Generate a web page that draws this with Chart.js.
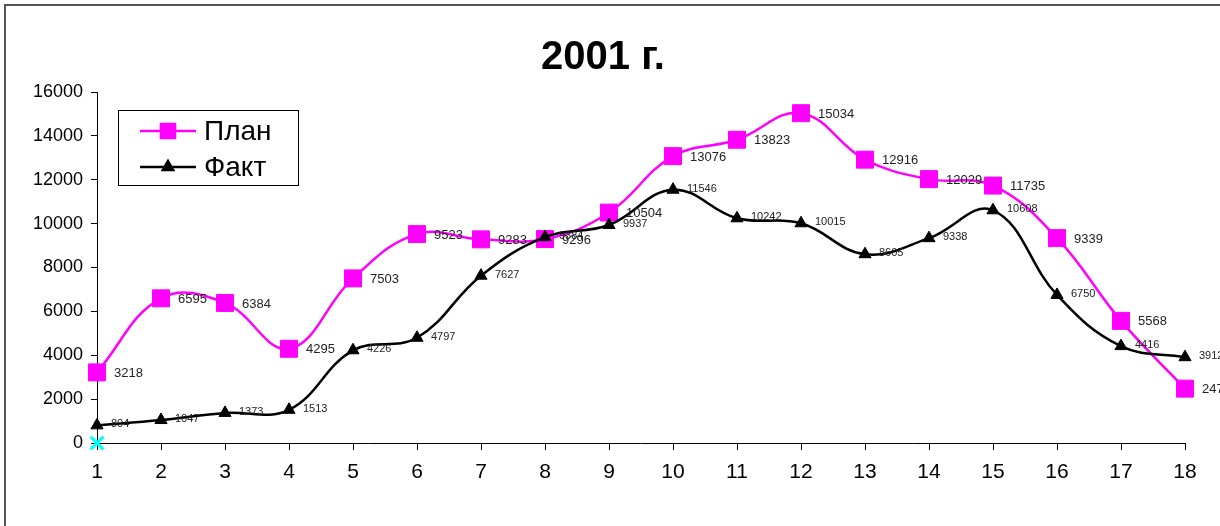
<!DOCTYPE html>
<html>
<head>
<meta charset="utf-8">
<script src="https://cdn.jsdelivr.net/npm/chart.js@4.4.1/dist/chart.umd.min.js"></script>
<style>
  html, body { margin: 0; padding: 0; background: #fff; }
  #wrap { width: 1220px; height: 526px; }
</style>
</head>
<body>
<div id="wrap"><canvas id="chart" width="1220" height="526"></canvas></div>
<script>
const labels = ['1','2','3','4','5','6','7','8','9','10','11','12','13','14','15','16','17','18'];
const planValues = [3218, 6595, 6384, 4295, 7503, 9523, 9283, 9296, 10504, 13076, 13823, 15034, 12916, 12029, 11735, 9339, 5568, 2479];
const factValues = [804, 1047, 1373, 1513, 4226, 4797, 7627, 9384, 9937, 11546, 10242, 10015, 8605, 9338, 10608, 6750, 4416, 3912];
const markerValues = [0, null, null, null, null, null, null, null, null, null, null, null, null, null, null, null, null, null];
const yTicks = [0, 2000, 4000, 6000, 8000, 10000, 12000, 14000, 16000];

const FONT = '"Liberation Sans", Arial, sans-serif';

// white background + grey frame
const framePlugin = {
    id: 'frame',
    beforeDraw(chart) {
        const ctx = chart.ctx;
        ctx.save();
        ctx.fillStyle = '#fff';
        ctx.fillRect(0, 0, chart.width, chart.height);
        ctx.strokeStyle = '#555';
        ctx.lineWidth = 2;
        ctx.strokeRect(5, 5, chart.width + 20, chart.height + 20);
        ctx.restore();
    }
};

// value labels to the right of points
const valueLabels = {
    id: 'valueLabels',
    afterDatasetsDraw(chart) {
        const ctx = chart.ctx;
        ctx.save();
        chart.data.datasets.forEach((ds, i) => {
            if (!ds.labelFont) return;
            const meta = chart.getDatasetMeta(i);
            ctx.font = ds.labelFont;
            ctx.fillStyle = '#222';
            ctx.textAlign = 'left';
            ctx.textBaseline = 'middle';
            meta.data.forEach((pt, j) => {
                ctx.fillText(String(ds.data[j]), pt.x + ds.labelDx, pt.y + ds.labelDy);
            });
        });
        ctx.restore();
    }
};

// title and legend box
const decor = {
    id: 'decor',
    afterDraw(chart) {
        const ctx = chart.ctx;
        ctx.save();
        ctx.fillStyle = '#000';
        ctx.font = 'bold 40px ' + FONT;
        ctx.textAlign = 'center';
        ctx.textBaseline = 'middle';
        ctx.fillText('2001 г.', 603, 58);

        ctx.fillStyle = '#fff';
        ctx.fillRect(118, 110, 180, 75);
        ctx.strokeStyle = '#000';
        ctx.lineWidth = 1;
        ctx.strokeRect(118.5, 110.5, 180, 75);

        const rows = [
            { text: 'План', color: '#FF00FF', style: 'rect', r: 10, y: 131 },
            { text: 'Факт', color: '#000000', style: 'triangle', r: 6, y: 167 }
        ];
        rows.forEach(row => {
            ctx.strokeStyle = row.color;
            ctx.lineWidth = 2.5;
            ctx.beginPath();
            ctx.moveTo(140, row.y);
            ctx.lineTo(196, row.y);
            ctx.stroke();
            ctx.fillStyle = row.color;
            Chart.helpers.drawPoint(ctx, { pointStyle: row.style, radius: row.r, borderWidth: 1 }, 168, row.y);
            ctx.fillStyle = '#000';
            ctx.font = '28px ' + FONT;
            ctx.textAlign = 'left';
            ctx.fillText(row.text, 204, row.y + 1);
        });
        ctx.restore();
    }
};

new Chart(document.getElementById('chart'), {
    type: 'line',
    data: {
        labels: labels,
        datasets: [
            {
                label: 'marker',
                data: markerValues,
                showLine: false,
                pointStyle: 'crossRot',
                pointRadius: 9,
                borderColor: '#00FFFF',
                backgroundColor: '#00FFFF',
                pointBorderWidth: 3,
                clip: false,
                order: 0
            },
            {
                label: 'Факт',
                data: factValues,
                borderColor: '#000',
                backgroundColor: '#000',
                borderWidth: 2.5,
                tension: 0.4,
                pointStyle: 'triangle',
                pointRadius: 7,
                pointBorderWidth: 1,
                clip: false,
                order: 1,
                labelFont: '11px ' + FONT,
                labelDx: 14,
                labelDy: -1
            },
            {
                label: 'План',
                data: planValues,
                borderColor: '#FF00FF',
                backgroundColor: '#FF00FF',
                borderWidth: 2.5,
                tension: 0.4,
                pointStyle: 'rect',
                pointRadius: 12,
                pointBorderWidth: 1,
                clip: false,
                order: 2,
                labelFont: '13px ' + FONT,
                labelDx: 17,
                labelDy: 1
            }
        ]
    },
    options: {
        responsive: false,
        animation: false,
        events: [],
        layout: { padding: { top: 92, right: 35, left: 0, bottom: 0 } },
        plugins: {
            legend: { display: false },
            title: { display: false },
            tooltip: { enabled: false }
        },
        scales: {
            x: {
                offset: false,
                afterFit: (scale) => { scale.height = 83; },
                grid: { display: true, drawOnChartArea: false, drawTicks: true, tickLength: 7, color: '#000' },
                border: { display: true, color: '#000', width: 1 },
                ticks: { color: '#000', font: { family: FONT, size: 21 }, padding: 10, maxRotation: 0, autoSkip: false }
            },
            y: {
                min: 0,
                max: 16000,
                afterFit: (scale) => { scale.width = 97; },
                afterBuildTicks: (scale) => { scale.ticks = yTicks.map(v => ({ value: v })); },
                grid: { display: true, drawOnChartArea: false, drawTicks: true, tickLength: 6, color: '#000' },
                border: { display: true, color: '#000', width: 1 },
                ticks: { color: '#000', font: { family: FONT, size: 18 }, padding: 8, callback: (v) => String(v) }
            }
        }
    },
    plugins: [framePlugin, valueLabels, decor]
});
</script>
</body>
</html>
